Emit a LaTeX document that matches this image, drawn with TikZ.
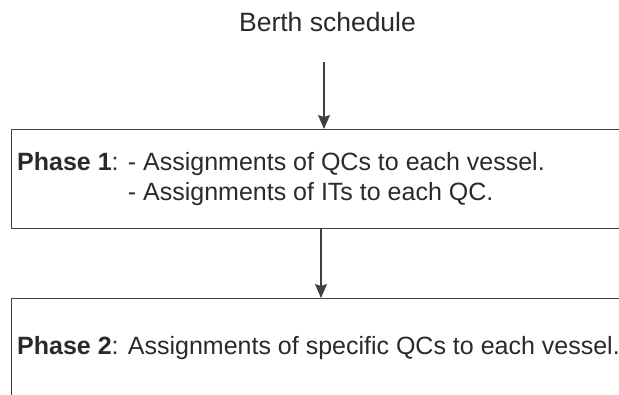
\documentclass[tikz,border=0pt]{standalone}
\usepackage{fontspec}
\setmainfont{Liberation Sans}
\usetikzlibrary{arrows.meta}
\definecolor{linegray}{HTML}{404040}
\definecolor{textgray}{HTML}{2A2A2A}

\begin{document}
\begin{tikzpicture}[x=1pt, y=-1pt, >={Stealth[length=14pt,width=12pt,inset=2pt]}]

        \def\boxleft{11}        % left edge of both phase boxes
        \def\boxwidth{640}      % the boxes run past the right edge
        \def\textleft{17}       % start of the phase texts
        \def\fs{25}             % font size
        \tikzstyle{phasebox}=[rectangle,draw=linegray,line width=1.3pt,minimum width=\boxwidth pt,inner sep=0pt,anchor=north west]
        \tikzstyle{phasetext}=[text=textgray,inner sep=0pt,anchor=base west,font={\fontsize{\fs}{30}\selectfont}]
        \tikzstyle{flow}=[->,draw=linegray,line width=1.3pt]

        \useasboundingbox (0,0) rectangle (619,394);
        \clip (0,0) rectangle (619,394);

        % Draw the input and the two phase boxes
            \node[phasetext,anchor=base,font={\fontsize{26.5}{30}\selectfont}] (berth) at (327.5,31) {Berth schedule};
            \node[phasebox,minimum height=99pt] (phaseA) at (\boxleft,129) {};
            \node[phasebox,minimum height=150pt] (phaseB) at (\boxleft,298) {};

        % Texts of the phases
            \node[phasetext] (phaseAone) at (\textleft,170) {\textbf{Phase 1}: - Assignments of QCs to each vessel.};
            \node[phasetext] (phaseAtwo) at (\textleft,200) {\phantom{\textbf{Phase 1}: }- Assignments of ITs to each QC.};
            \node[phasetext] (phaseBone) at (\textleft,354) {\textbf{Phase 2}: Assignments of specific QCs to each vessel.};

        % Connect schedule -> phase 1 -> phase 2
            \coordinate (inA) at (324,62);
            \coordinate (linkAB) at (321,0);
            \draw[flow] (inA) -- (inA |- phaseA.north);
            \draw[flow] (linkAB |- phaseA.south) -- (linkAB |- phaseB.north);

\end{tikzpicture}
\end{document}
